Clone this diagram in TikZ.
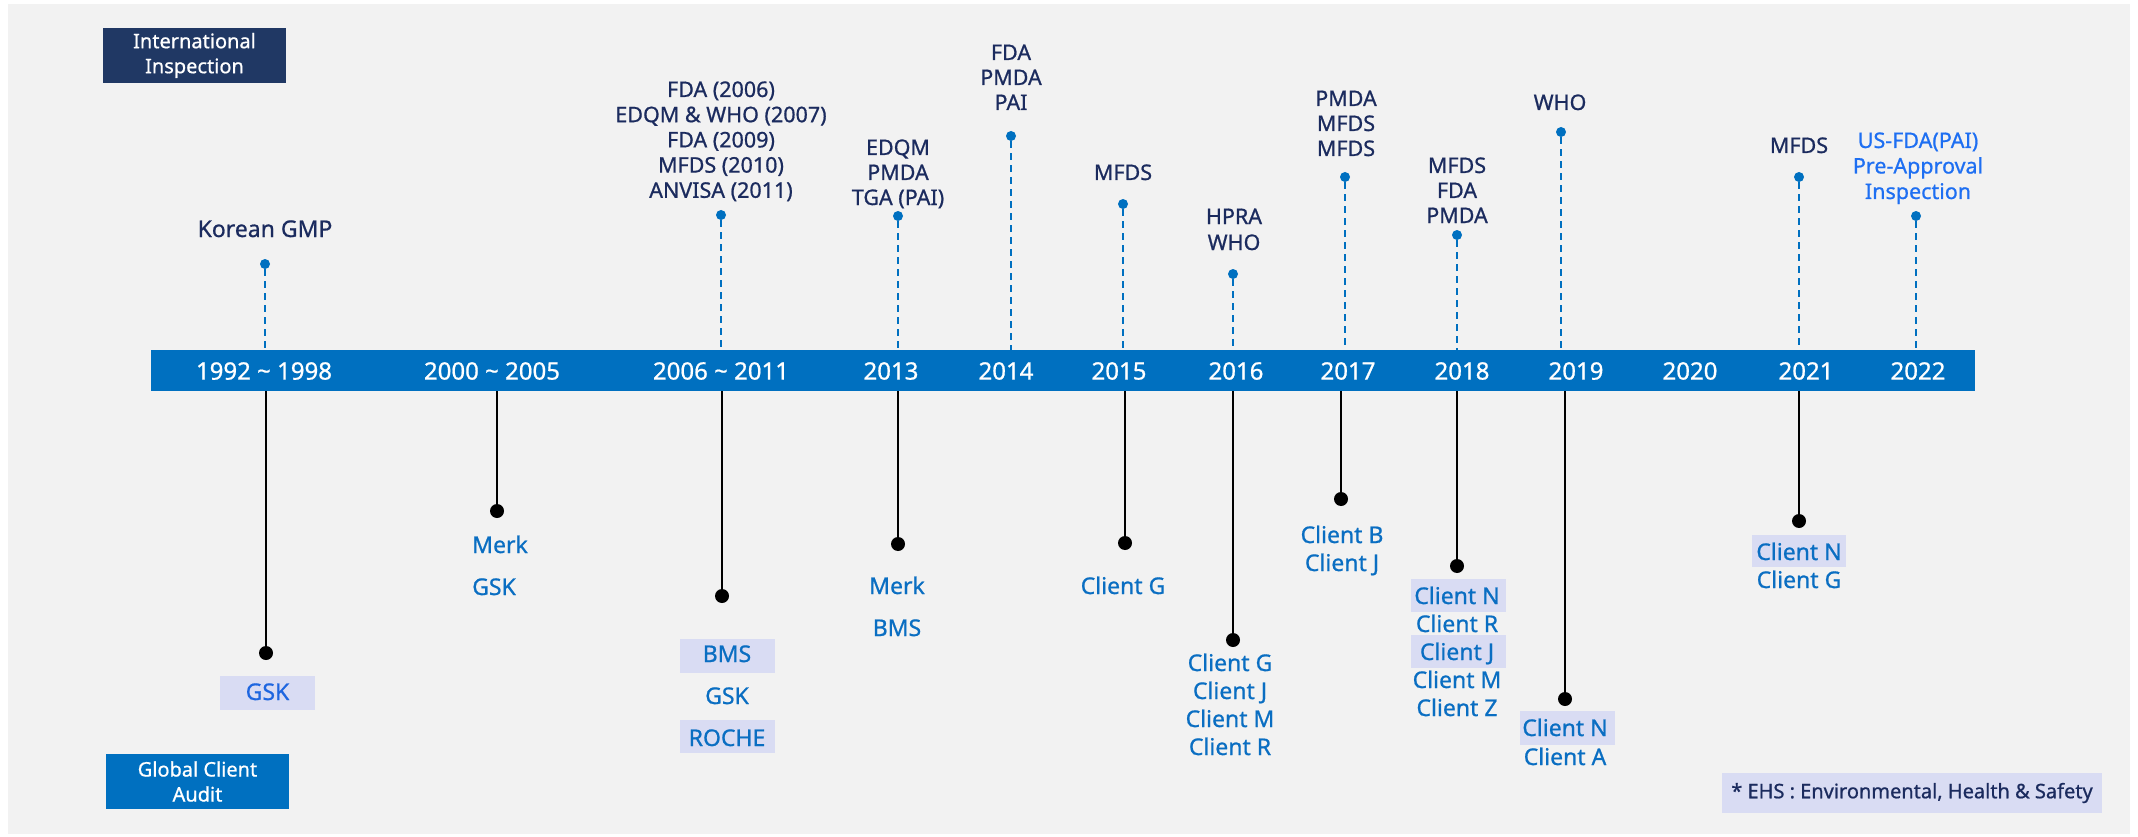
\documentclass[tikz,border=0pt]{standalone}
\usepackage{fontspec}
\setmainfont{Noto Sans}[BoldFont=Noto Sans,BoldFeatures={FakeBold=0.8}]
\definecolor{bgc}{HTML}{F2F2F2}
\definecolor{barc}{HTML}{0070C0}
\definecolor{navy}{HTML}{1B2B5E}
\definecolor{navybox}{HTML}{203864}
\definecolor{hlc}{HTML}{D9DCF3}
\definecolor{clt}{HTML}{0A6EC2}
\definecolor{brt}{HTML}{1E66E0}
\definecolor{usfda}{HTML}{1E6FF2}
\newcommand\stk[6]{%
  \foreach \t [count=\i] in {#6} {\node[#2] (#1-\i) at (#3,{#4+(\i-1)*#5}) {\t};}}
\begin{document}
\begin{tikzpicture}[x=1pt,y=-1pt,
  year/.style={text=white,font=\fontsize{24}{28}\selectfont\bfseries,inner sep=0pt,anchor=base},
  top/.style={text=navy,font=\fontsize{21.5}{25}\selectfont\bfseries,inner sep=0pt,anchor=base},
  bot/.style={text=clt,font=\fontsize{23}{28}\selectfont\bfseries,inner sep=0pt,anchor=base},
  bdot/.style={circle,fill=barc,inner sep=0pt,minimum size=10pt},
  kdot/.style={circle,fill=black,inner sep=0pt,minimum size=14pt},
  dline/.style={barc,line width=1.6pt,dash pattern=on 7pt off 5pt},
  sline/.style={black,line width=1.8pt},
  hl/.style={fill=hlc,inner sep=0pt,minimum width=95pt,minimum height=34pt},
  legend/.style={text=white,font=\fontsize{20}{25}\selectfont\bfseries,align=center,inner sep=0pt,minimum width=183pt,minimum height=55pt}]
\useasboundingbox (0,0) rectangle (2138,837);
\fill[white] (0,0) rectangle (2138,837);
\fill[bgc] (8,4) rectangle (2130,834);
% legend
\node[legend,fill=navybox] (legI) at (194.5,55.5) {International\\Inspection};
\node[legend,fill=barc] (legA) at (197.5,781.5) {Global Client\\Audit};
\node[fill=hlc,text=navy,font=\fontsize{20}{24}\selectfont\bfseries,inner sep=0pt,minimum width=380pt,minimum height=40pt] (ehs) at (1912,793) {* EHS : Environmental, Health \& Safety};
% bar
\node[fill=barc,minimum width=1824pt,minimum height=41pt,inner sep=0pt,anchor=north west] (bar) at (151,350) {};
\foreach \x/\lab [count=\k] in {264/1992 \textasciitilde{} 1998,492/2000 \textasciitilde{} 2005,721/2006 \textasciitilde{} 2011,891/2013,1006/2014,1119/2015,1236/2016,1348/2017,1462/2018,1576/2019,1690/2020,1806/2021,1918/2022}
  {\node[year] (y\k) at (\x,379.6) {\lab};}
% inspections (top)
\foreach \x/\y [count=\k] in {265/264,721/215,898/216,1011/136,1123/204,1233/274,1345/177,1457/235,1561/132,1799/177,1916/216}
  {\node[bdot] (i\k) at (\x,\y) {};
   \draw[dline] (i\k) -- (i\k |- bar.north);}
\node[top,font=\fontsize{23}{28}\selectfont\bfseries] (kgmp) at (265,237) {Korean GMP};
\stk{t2006}{top}{721}{97}{25.2}{FDA (2006),EDQM \& WHO (2007),FDA (2009),MFDS (2010),ANVISA (2011)}
\stk{t2013}{top}{898}{155}{25}{EDQM,PMDA,TGA (PAI)}
\stk{t2014}{top}{1011}{60}{25}{FDA,PMDA,PAI}
\stk{t2015}{top}{1123}{180}{25}{MFDS}
\stk{t2016}{top}{1234}{224}{26}{HPRA,WHO}
\stk{t2017}{top}{1346}{106}{25}{PMDA,MFDS,MFDS}
\stk{t2018}{top}{1457}{173}{25}{MFDS,FDA,PMDA}
\stk{t2019}{top}{1560}{110}{25}{WHO}
\stk{t2021}{top}{1799}{153}{25}{MFDS}
\stk{t2022}{top,text=usfda}{1918}{148}{25.5}{US-FDA(PAI),Pre-Approval,Inspection}
% audits (bottom)
\node[hl] (hlA) at (267.5,693) {};
\node[hl] (hlB) at (727.5,656) {};
\node[hl,minimum height=33pt] (hlC) at (727.5,736.5) {};
\node[hl,minimum height=33pt] (hlD) at (1458.5,595.5) {};
\node[hl,minimum height=33pt] (hlE) at (1458.5,651.5) {};
\node[hl] (hlF) at (1567.5,728) {};
\node[hl,minimum width=94pt,minimum height=32pt] (hlG) at (1799,551) {};
\foreach \x/\y [count=\k] in {266/653,497/511,722/596,898/544,1125/543,1233/640,1341/499,1457/566,1565/699,1799/521}
  {\node[kdot] (a\k) at (\x,\y) {};
   \draw[sline] (a\k |- bar.south) -- (a\k);}
\node[bot,text=brt] (b1992) at (267.5,700) {GSK};
\stk{b2000}{bot,anchor=base west}{472}{553}{42}{Merk,GSK}
\stk{b2006}{bot}{727}{662}{42}{BMS,GSK,ROCHE}
\stk{b2013}{bot}{897}{594}{42}{Merk,BMS}
\stk{b2015}{bot}{1123}{594}{28}{Client G}
\stk{b2016}{bot}{1230}{671}{28}{Client G,Client J,Client M,Client R}
\stk{b2017}{bot}{1342}{543}{28}{Client B,Client J}
\stk{b2018}{bot}{1457}{604}{28}{Client N,Client R,Client J,Client M,Client Z}
\stk{b2019}{bot}{1565}{736}{29}{Client N,Client A}
\stk{b2021}{bot}{1799}{560}{28}{Client N,Client G}
\end{tikzpicture}
\end{document}
